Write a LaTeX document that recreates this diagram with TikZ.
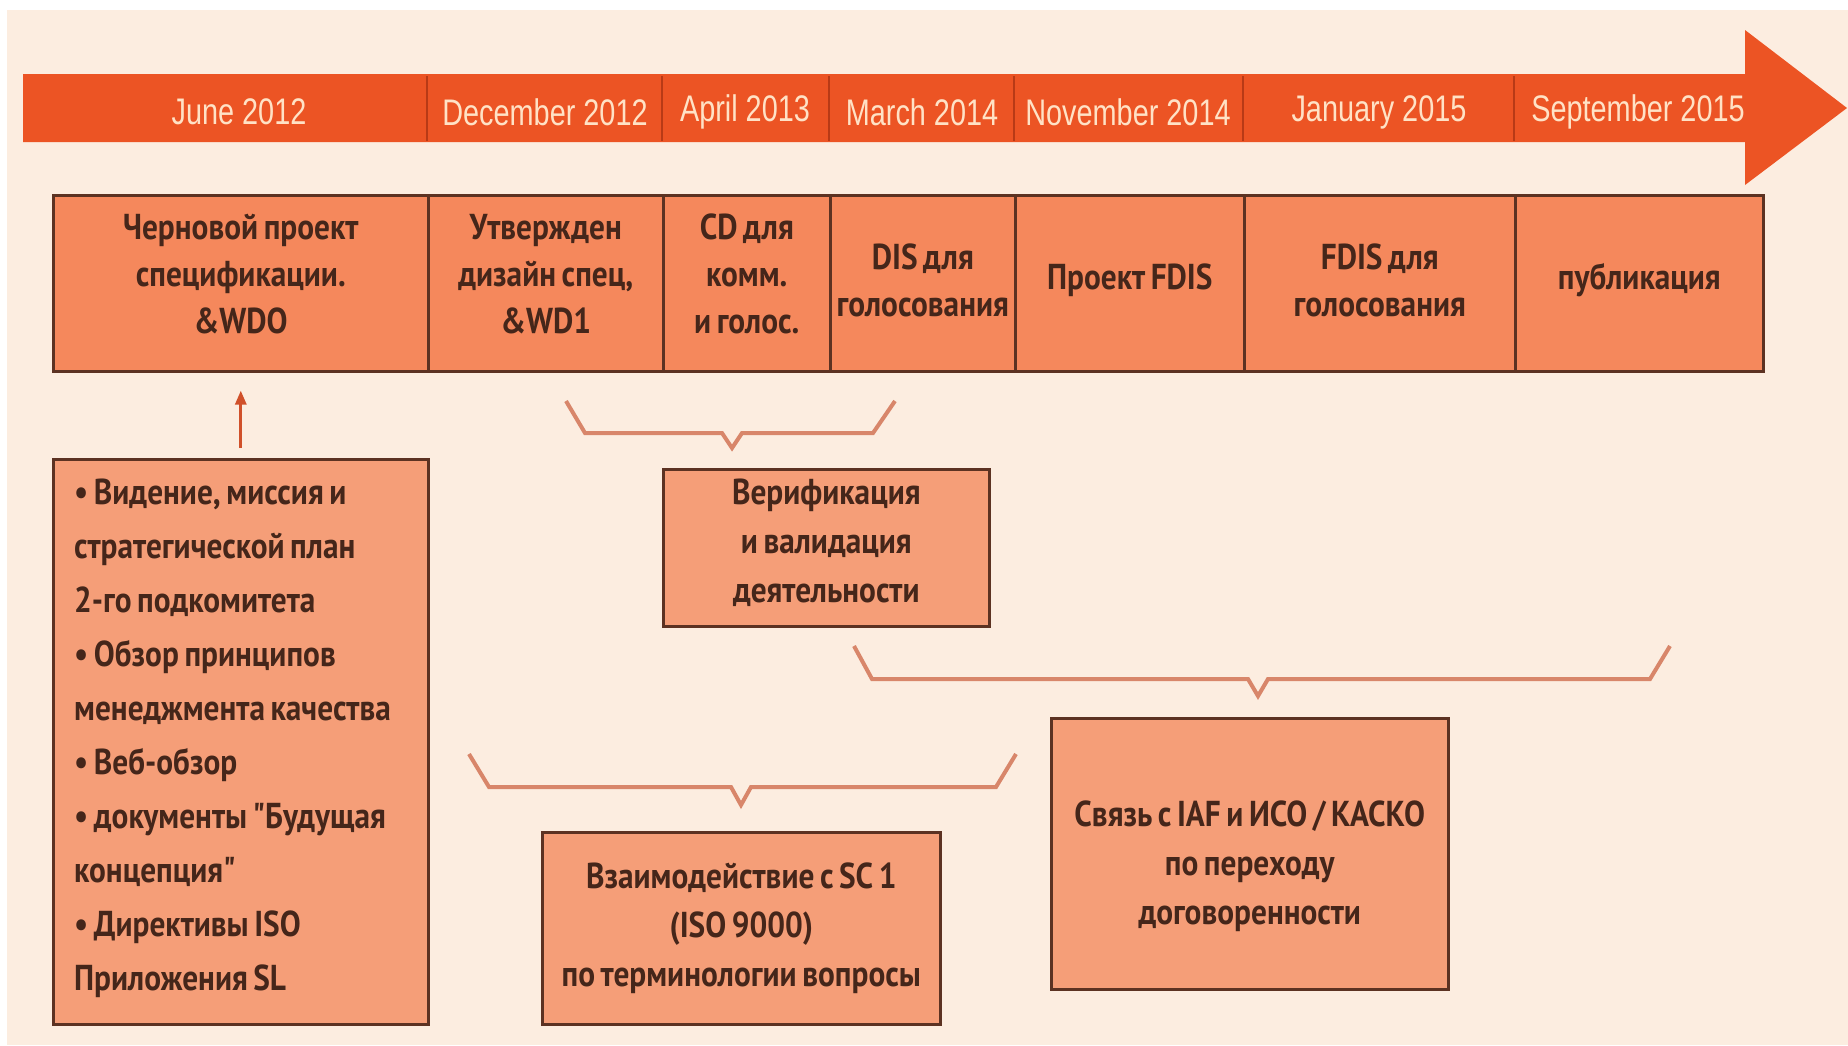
\documentclass[tikz,border=0pt]{standalone}
\usepackage{fontspec}
\newfontfamily\bandfont[FakeStretch=0.78]{Liberation Sans}
\newfontfamily\boxfont[FakeStretch=0.87, WordSpace=0.7, BoldFont={PT Sans Bold}]{PT Sans}
\usetikzlibrary{arrows.meta}
\definecolor{paper}{HTML}{FCEDE0}
\definecolor{band}{HTML}{EC5424}
\definecolor{bandline}{HTML}{B83A16}
\definecolor{bandtext}{HTML}{FFE2C6}
\definecolor{stagefill}{HTML}{F5885C}
\definecolor{notefill}{HTML}{F59E78}
\definecolor{edge}{HTML}{5C3222}
\definecolor{ink}{HTML}{45261A}
\definecolor{bracecol}{HTML}{D8866A}
\definecolor{pointer}{HTML}{D0502A}
\tikzset{
  datelabel/.style={font={\bandfont\fontsize{37}{44}\selectfont}, text=bandtext, inner sep=0pt},
  stagebox/.style={draw=edge, line width=2.6pt, fill=stagefill, anchor=north west,
    minimum height=176pt, inner sep=0pt},
  stagetext/.style={text=ink, inner sep=0pt, align=center,
    font={\boxfont\bfseries\fontsize{36}{47}\selectfont}},
  notebox/.style={draw=edge, line width=2.6pt, fill=notefill, anchor=north west, inner sep=0pt},
  notetext/.style={text=ink, inner sep=0pt, align=center,
    font={\boxfont\bfseries\fontsize{36}{49}\selectfont}},
  bracket/.style={line width=4pt, draw=bracecol, line join=miter},
  divider/.style={line width=2.6pt, draw=bandline}
}
\begin{document}
\begin{tikzpicture}[x=1pt, y=-1pt]
\useasboundingbox (0,0) rectangle (1848,1045);
\fill[white] (0,0) rectangle (1848,1045);
\fill[paper] (7,10) rectangle (1848,1045);

% timeline band with arrow head
\fill[band] (23,74) -- (1745,74) -- (1745,30) -- (1847,108) -- (1745,185) -- (1745,142) -- (23,142) -- cycle;
\foreach \x in {427,662,829,1014,1243,1514}
  \draw[divider] (\x,76) -- (\x,141);

\node[datelabel] (d1) at (239,112) {June 2012};
\node[datelabel] (d2) at (545,112) {December 2012};
\node[datelabel] (d3) at (745,112) {April 2013};
\node[datelabel] (d4) at (922,112) {March 2014};
\node[datelabel] (d5) at (1128,112) {November 2014};
\node[datelabel] (d6) at (1379,112) {January 2015};
\node[datelabel] (d7) at (1638,112) {September 2015};

% stage boxes under the band
\node[stagebox, minimum width=375pt] (s1) at (52,194) {};
\node[stagebox, minimum width=235pt] (s2) at (427,194) {};
\node[stagebox, minimum width=167pt] (s3) at (662,194) {};
\node[stagebox, minimum width=185pt] (s4) at (829,194) {};
\node[stagebox, minimum width=229pt] (s5) at (1014,194) {};
\node[stagebox, minimum width=271pt] (s6) at (1243,194) {};
\node[stagebox, minimum width=248pt] (s7) at (1514,194) {};

\node[stagetext] (s1t) at ([yshift=9pt]s1.center) {Черновой проект\\спецификации.\\\&WDO};
\node[stagetext] (s2t) at ([yshift=9pt]s2.center) {Утвержден\\дизайн спец,\\\&WD1};
\node[stagetext] (s3t) at ([yshift=9pt]s3.center) {CD для\\комм.\\и голос.};
\node[stagetext] (s4t) at ([yshift=3pt]s4.center) {DIS для\\голосования};
\node[stagetext] (s5t) at ([yshift=3pt]s5.center) {Проект FDIS};
\node[stagetext] (s6t) at ([yshift=3pt]s6.center) {FDIS для\\голосования};
\node[stagetext] (s7t) at ([yshift=3pt]s7.center) {публикация};

% notes below
\node[notebox, minimum width=375pt, minimum height=565pt] (n1) at (52,458) {};
\node[notebox, minimum width=326pt, minimum height=157pt] (n2) at (662,468) {};
\node[notebox, minimum width=398pt, minimum height=192pt] (n3) at (541,831) {};
\node[notebox, minimum width=397pt, minimum height=271pt] (n4) at (1050,717) {};

\node[notetext, align=left, anchor=west, font={\boxfont\bfseries\fontsize{36}{54}\selectfont}]
  (n1t) at ([xshift=22pt, yshift=3pt]n1.west)
  {• Видение, миссия и\\стратегической план\\2-го подкомитета\\• Обзор принципов\\менеджмента качества\\• Веб-обзор\\• документы "Будущая\\концепция"\\• Директивы ISO\\Приложения SL};
\node[notetext] (n2t) at ([yshift=5pt]n2.center) {Верификация\\и валидация\\деятельности};
\node[notetext] (n3t) at (n3.center) {Взаимодействие с SC 1\\(ISO 9000)\\по терминологии вопросы};
\node[notetext] (n4t) at ([yshift=-12pt]n4.center) {Связь с IAF и ИСО / КАСКО\\по переходу\\договоренности};

% pointer from the note to the first stage
\draw[line width=3pt, pointer, -{Triangle[length=14pt, width=11pt]},
  shorten <=10pt, shorten >=18pt] (n1.north -| s1.south) -- (s1.south);

% brackets grouping stages
\draw[bracket] (566,401) -- (585,433) -- (722,433) -- (732,448) -- (742,433) -- (873,433) -- (895,401);
\draw[bracket] (854,646) -- (872,679) -- (1248,679) -- (1258,696) -- (1268,679) -- (1650,679) -- (1670,646);
\draw[bracket] (469,754) -- (489,787) -- (731,787) -- (741,805) -- (751,787) -- (996,787) -- (1016,754);
\end{tikzpicture}
\end{document}
